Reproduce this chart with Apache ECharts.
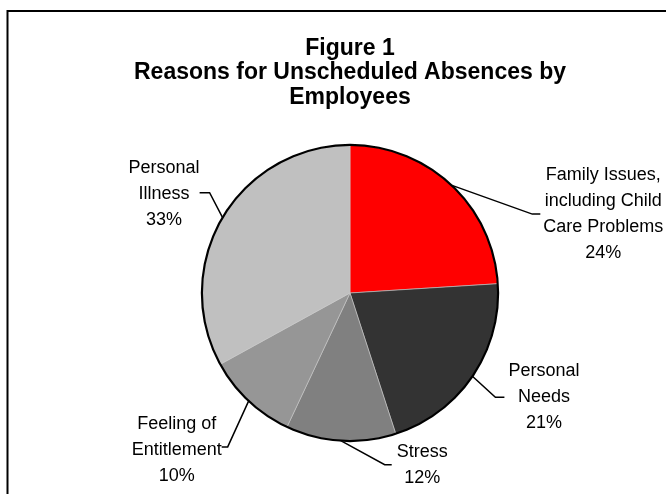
<!DOCTYPE html>
<html>
<head>
<meta charset="utf-8">
<script src="https://cdn.jsdelivr.net/npm/echarts@6/dist/echarts.min.js"></script>
<style>
  html, body { margin: 0; padding: 0; background: #fff; }
  #chart { width: 666px; height: 494px; }
</style>
</head>
<body>
<div id="chart"></div>
<script>
// Reasons for unscheduled absences (share of responses, %)
const categories = [
  'Family Issues,\nincluding Child\nCare Problems',
  'Personal\nNeeds',
  'Stress',
  'Feeling of\nEntitlement',
  'Personal\nIllness'
];
const shares = [24, 21, 12, 10, 33];

const titleLines = ['Figure 1', 'Reasons for Unscheduled Absences by', 'Employees'];

// Pie geometry and slice palette
const CX = 350, CY = 293, R = 148;
const palette = ['#FF0000', '#333333', '#808080', '#969696', '#C0C0C0'];

// Leader-line shape per slice: bend offset from the slice edge, horizontal tail,
// side the label sits on, gap between tail and text, vertical nudge of the text
const leaders = [
  { bx: 81,  by: 29,  tail: 8,  side: 1,  gap: 3, ny: 0 },
  { bx: 23,  by: 21,  tail: 9,  side: 1,  gap: 4, ny: 0 },
  { bx: 44,  by: 24,  tail: 7,  side: 1,  gap: 5, ny: 0 },
  { bx: -21, by: 46,  tail: 6,  side: -1, gap: 0, ny: 3 },
  { bx: -13, by: -25, tail: 10, side: -1, gap: 0, ny: 1 }
];

const total = shares.reduce((a, b) => a + b, 0);
// Edge point at each slice's mid-angle (start at 12 o'clock, clockwise)
const edges = [];
let acc = 0;
shares.forEach(v => {
  const a = (acc + v / 2) / total * Math.PI * 2;
  edges.push([CX + R * Math.sin(a), CY - R * Math.cos(a)]);
  acc += v;
});

const chart = echarts.init(document.getElementById('chart'), null, { renderer: 'canvas' });

chart.setOption({
  backgroundColor: '#ffffff',
  animation: false,
  color: palette,
  title: {
    text: titleLines.join('\n'),
    left: 345,
    top: 31,
    textAlign: 'center',
    textStyle: {
      fontFamily: 'Liberation Sans, Arial, sans-serif',
      fontWeight: 'bold',
      fontSize: 23,
      lineHeight: 24.5,
      color: '#000'
    }
  },
  graphic: [{
    type: 'rect',
    silent: true,
    shape: { x: 7.5, y: 11, width: 800, height: 700 },
    style: { fill: 'none', stroke: '#000', lineWidth: 2 }
  }],
  series: [
    {
      type: 'pie',
      center: [CX, CY],
      radius: R,
      startAngle: 90,
      clockwise: true,
      avoidLabelOverlap: false,
      data: categories.map((name, i) => ({ name, value: shares[i] })),
      itemStyle: { borderColor: '#c8c8c8', borderWidth: 0.6 },
      label: {
        show: true,
        position: 'outside',
        alignTo: 'none',
        formatter: '{b}\n{c}%',
        fontFamily: 'Liberation Sans, Arial, sans-serif',
        fontSize: 18,
        lineHeight: 26,
        color: '#000'
      },
      labelLine: {
        show: true,
        length: 10,
        length2: 10,
        smooth: false,
        lineStyle: { color: '#000', width: 1.5 }
      },
      labelLayout: function (params) {
        const i = params.dataIndex;
        const L = leaders[i];
        const e = edges[i];
        const bend = [e[0] + L.bx, e[1] + L.by];
        const end = [bend[0] + L.side * L.tail, bend[1]];
        const w = params.labelRect.width;
        return {
          x: end[0] + L.side * (L.gap + w / 2),
          y: end[1] + L.ny,
          align: 'center',
          verticalAlign: 'middle',
          labelLinePoints: [e, bend, end]
        };
      },
      emphasis: { disabled: true }
    },
    {
      // outer outline of the pie
      type: 'pie',
      center: [CX, CY],
      radius: [R - 1, R + 1.2],
      silent: true,
      label: { show: false },
      labelLine: { show: false },
      data: [{ name: 'outline', value: total }],
      itemStyle: { color: '#000' },
      emphasis: { disabled: true }
    }
  ]
});
</script>
</body>
</html>
